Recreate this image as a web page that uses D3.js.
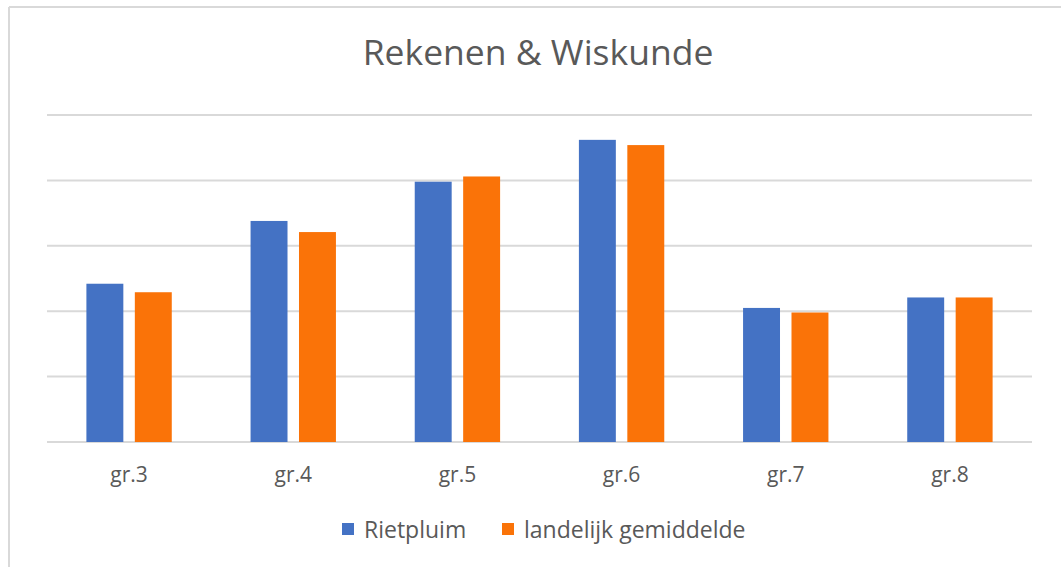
<!DOCTYPE html>
<html>
<head>
<meta charset="utf-8">
<script src="https://cdn.jsdelivr.net/npm/d3@7"></script>
<style>
  body { margin: 0; background: #fff; }
  svg { display: block; }
  text { font-family: "Open Sans", "Noto Sans", sans-serif; fill: #595959; }
</style>
</head>
<body>
<div id="chart"></div>
<script>

// ===========================//
// DATA
// ===========================//

var groups = ["gr.3", "gr.4", "gr.5", "gr.6", "gr.7", "gr.8"]
var seriesNames = ["Rietpluim", "landelijk gemiddelde"]
var rietpluim = [2.42, 3.38, 3.98, 4.62, 2.05, 2.21]
var landelijk = [2.29, 3.21, 4.06, 4.54, 1.98, 2.21]
var gridTicks = [0, 1, 2, 3, 4, 5]

var colors = ["#4472c4", "#fa7308"]

// ===========================//
// SVG + SCALES
// ===========================//

var width = 1061, height = 567

var svg = d3.select("#chart")
  .append("svg")
    .attr("width", width)
    .attr("height", height)

// chart frame (only top + left edges visible in the crop)
svg.append("line")
  .attr("x1", 9).attr("x2", width).attr("y1", 7).attr("y2", 7)
  .attr("stroke", "#d9d9d9").attr("stroke-width", 2)
svg.append("line")
  .attr("x1", 9).attr("x2", 9).attr("y1", 7).attr("y2", height)
  .attr("stroke", "#d9d9d9").attr("stroke-width", 2)

var plotLeft = 47, plotRight = 1032, plotTop = 115, plotBottom = 442

var x = d3.scaleBand()
  .domain(groups)
  .range([plotLeft, plotRight])

var y = d3.scaleLinear()
  .domain([0, 5])
  .range([plotBottom, plotTop])

var barW = x.bandwidth() * 0.225
var barGap = x.bandwidth() * 0.07

var xInner = d3.scaleOrdinal()
  .domain(seriesNames)
  .range([-barGap / 2 - barW, barGap / 2])

// ===========================//
// GRIDLINES
// ===========================//

svg.append("g")
  .selectAll("line")
  .data(gridTicks)
  .enter()
  .append("line")
    .attr("x1", plotLeft)
    .attr("x2", plotRight)
    .attr("y1", function(d){ return y(d) })
    .attr("y2", function(d){ return y(d) })
    .attr("stroke", "#d9d9d9")
    .attr("stroke-width", 2)

// ===========================//
// BARS
// ===========================//

var rows = groups.map(function(g, i){
  return [
    {group: g, series: seriesNames[0], value: rietpluim[i]},
    {group: g, series: seriesNames[1], value: landelijk[i]}
  ]
})

svg.append("g")
  .selectAll("g")
  .data(rows)
  .enter()
  .append("g")
  .selectAll("rect")
  .data(function(d){ return d })
  .enter()
  .append("rect")
    .attr("x", function(d){ return x(d.group) + x.bandwidth() / 2 + xInner(d.series) })
    .attr("y", function(d){ return y(d.value) })
    .attr("width", barW)
    .attr("height", function(d){ return y(0) - y(d.value) })
    .attr("fill", function(d, i){ return colors[i] })

// ===========================//
// X AXIS LABELS
// ===========================//

var xAxis = svg.append("g")
  .attr("transform", "translate(0," + plotBottom + ")")
  .call(d3.axisBottom(x).tickSize(0).tickPadding(0))

xAxis.select(".domain").remove()
xAxis.selectAll("text")
  .attr("dy", null)
  .attr("y", 40)
  .style("font-family", "\"Open Sans\", sans-serif")
  .style("font-size", "21px")
  .style("fill", "#595959")

// ===========================//
// TITLE
// ===========================//

svg.append("text")
  .attr("x", 538)
  .attr("y", 65)
  .attr("text-anchor", "middle")
  .style("font-size", "35.5px")
  .text("Rekenen & Wiskunde")

// ===========================//
// LEGEND
// ===========================//

var legendX = [342, 502]

var legend = svg.append("g")
  .selectAll("g")
  .data(seriesNames)
  .enter()
  .append("g")
    .attr("transform", function(d, i){ return "translate(" + legendX[i] + ",523)" })

legend.append("rect")
  .attr("width", 12)
  .attr("height", 12)
  .attr("fill", function(d, i){ return colors[i] })

legend.append("text")
  .attr("x", 22)
  .attr("y", 15)
  .style("font-size", "23px")
  .text(function(d){ return d })

</script>
</body>
</html>
